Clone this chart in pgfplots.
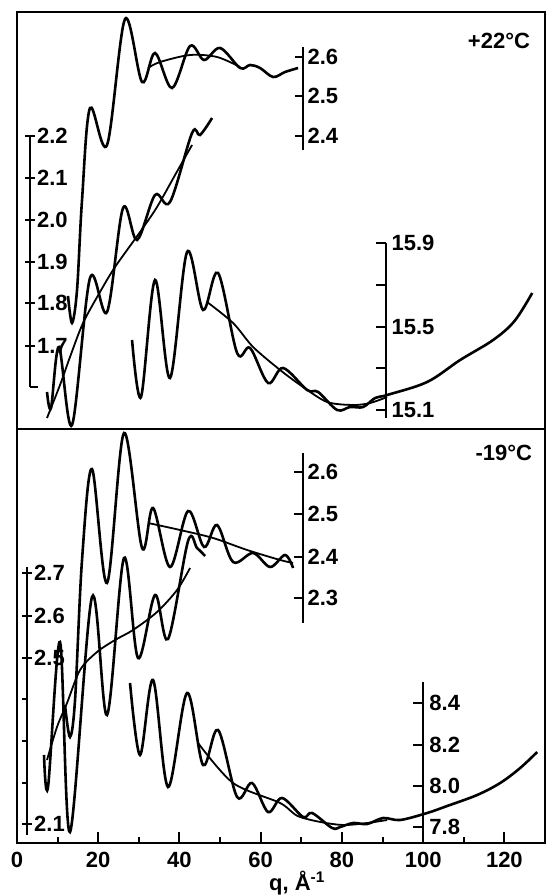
\documentclass[border=0pt]{standalone}
\usepackage{fontspec}
\setmainfont{Liberation Sans}
\usepackage{pgfplots}
\pgfplotsset{compat=1.18}

\newcommand\lbl{\fontsize{11}{13}\selectfont\bfseries}

\begin{document}
\begin{tikzpicture}[font=\lbl]
\useasboundingbox (0,0) rectangle (273.5pt,447.5pt);
\tikzset{scalebar/.style={black, line width=1.1pt}}
\pgfplotsset{
  panel/.style={scale only axis, width=264pt, xmin=0, xmax=130, ymin=0,
    clip=false, anchor=south west, ytick=\empty,
    axis line style={line width=1.4pt},
    tick label style={font=\lbl},
    /pgf/number format/assume math mode=true},
  curve/.style={black, line width=1.3pt, smooth, tension=0.55, mark=none},
  fit/.style={black, line width=0.9pt, smooth, mark=none},
}

% ---------------- upper panel, +22 C ----------------
\begin{axis}[panel, at={(8.5pt,233pt)}, height=208.5pt, ymax=417, xtick=\empty]
% top series (2.4 - 2.6 scale)
\addplot[curve] coordinates {
  (12.56,133) (13.55,106) (14.78,139) (16.01,229) (17.98,321) (22.17,284)
  (26.60,410) (30.79,347) (33.99,376) (38.18,341) (42.61,383) (46.06,369)
  (50.00,381) (54.93,361) (57.39,364) (59.85,361) (63.05,352) (66.01,357)
  (69.21,361)
};
\addplot[fit] coordinates {
  (32.27,361) (35.22,367) (42.61,374) (49.26,372) (54.93,362)
};
% middle series (1.6 - 2.2 scale)
\addplot[curve] coordinates {
  (7.39,37) (8.37,21) (10.34,82) (13.55,4) (17.98,151) (22.17,117)
  (26.11,221) (29.56,189) (33.99,234) (37.68,227) (43.10,296) (45.07,294)
  (48.03,311)
};
\addplot[fit] coordinates {
  (7.39,11) (10.59,44) (13.05,72) (16.26,106) (20.44,137) (24.14,162)
  (30.30,197) (34.48,222) (38.92,254) (43.10,284)
};
% lower series (15.1 - 15.9 scale)
\addplot[curve] coordinates {
  (28.33,89) (30.54,32) (33.99,149) (37.68,51) (41.87,177) (45.81,119)
  (49.51,156) (54.19,76) (57.39,81) (61.82,46) (65.52,61) (71.43,39)
  (74.14,37) (78.82,19) (82.02,22) (85.22,22) (88.18,31) (91.13,34)
  (100.99,47) (109.11,69) (117.24,89) (122.5,108) (126.85,136)
};
\addplot[fit] coordinates {
  (46.80,127) (53.20,106) (58.13,82) (64.78,59) (70.44,42) (76.35,27)
  (82.76,24) (86.95,26) (91.13,32)
};
% scale 1.6 - 2.2
\draw[scalebar] (axis cs:3.20,42) -- (axis cs:3.20,293);
\draw[scalebar] (axis cs:1.97,293) -- (axis cs:4.43,293);
\draw[scalebar] (axis cs:1.97,251) -- (axis cs:4.43,251);
\draw[scalebar] (axis cs:1.97,209) -- (axis cs:4.43,209);
\draw[scalebar] (axis cs:1.97,167) -- (axis cs:4.43,167);
\draw[scalebar] (axis cs:1.97,126) -- (axis cs:4.43,126);
\draw[scalebar] (axis cs:1.97,83) -- (axis cs:4.43,83);
\draw[scalebar] (axis cs:3.20,42) -- (axis cs:5.20,42);
\node[anchor=west, inner sep=0.5pt] at (axis cs:4.6,293) {2.2};
\node[anchor=west, inner sep=0.5pt] at (axis cs:4.6,251) {2.1};
\node[anchor=west, inner sep=0.5pt] at (axis cs:4.6,209) {2.0};
\node[anchor=west, inner sep=0.5pt] at (axis cs:4.6,167) {1.9};
\node[anchor=west, inner sep=0.5pt] at (axis cs:4.6,126) {1.8};
\node[anchor=west, inner sep=0.5pt] at (axis cs:4.6,83) {1.7};
% scale 2.4 - 2.6
\draw[scalebar] (axis cs:70.44,279) -- (axis cs:70.44,382);
\draw[scalebar] (axis cs:68.47,372) -- (axis cs:70.44,372);
\draw[scalebar] (axis cs:68.47,333) -- (axis cs:70.44,333);
\draw[scalebar] (axis cs:68.47,293) -- (axis cs:70.44,293);
\node[anchor=west, inner sep=0.5pt] at (axis cs:71.2,372) {2.6};
\node[anchor=west, inner sep=0.5pt] at (axis cs:71.2,333) {2.5};
\node[anchor=west, inner sep=0.5pt] at (axis cs:71.2,293) {2.4};
% scale 15.1 - 15.9
\draw[scalebar] (axis cs:90.89,11) -- (axis cs:90.89,186);
\draw[scalebar] (axis cs:88.42,186) -- (axis cs:90.89,186);
\draw[scalebar] (axis cs:88.42,144) -- (axis cs:90.89,144);
\draw[scalebar] (axis cs:88.42,102) -- (axis cs:90.89,102);
\draw[scalebar] (axis cs:88.42,61) -- (axis cs:90.89,61);
\draw[scalebar] (axis cs:88.42,19) -- (axis cs:90.89,19);
\node[anchor=west, inner sep=0.5pt] at (axis cs:91.9,186) {15.9};
\node[anchor=west, inner sep=0.5pt] at (axis cs:91.9,102) {15.5};
\node[anchor=west, inner sep=0.5pt] at (axis cs:91.9,19) {15.1};
\node[anchor=east, inner sep=0pt] at (axis cs:126.4,388) {+22°C};
\end{axis}

% ---------------- lower panel, -19 C ----------------
\begin{axis}[panel, at={(8.5pt,26pt)}, height=207pt, ymax=414,
  xtick={0,20,...,120}, minor xtick={10,30,...,130},
  xtick pos=bottom, tick align=inside,
  major tick length=5.5pt, minor tick length=3pt,
  every tick/.style={black, line width=1pt},
  xticklabel style={yshift=-1pt}]
% top series (2.3 - 2.6 scale)
\addplot[curve] coordinates {
  (11.82,138) (13.05,106) (14.29,143) (16.01,283) (18.47,374) (22.17,260)
  (26.35,410) (30.79,295) (33.50,335) (37.68,276) (42.12,332) (46.06,296)
  (49.26,318) (53.20,281) (58.13,290) (62.32,276) (66.01,288) (67.98,275)
};
\addplot[fit] coordinates {
  (32.27,320) (40.15,313) (48.28,305) (56.65,293) (64.78,283) (67.98,280)
};
% middle series (2.1 - 2.7 scale)
\addplot[curve] coordinates {
  (6.65,88) (7.64,56) (10.59,201) (13.05,11) (18.47,246) (22.17,128)
  (26.35,285) (29.80,185) (33.99,248) (37.19,204) (42.12,302) (44.33,295)
  (46.31,287)
};
\addplot[fit] coordinates {
  (7.39,83) (9.85,116) (12.32,140) (15.52,173) (19.70,191) (24.14,203)
  (28.57,213) (34.48,231) (39.41,253) (42.61,275)
};
% lower series (7.8 - 8.4 scale)
\addplot[curve] coordinates {
  (27.83,160) (30.30,88) (33.50,163) (37.19,56) (41.87,150) (45.81,78)
  (49.51,113) (54.19,46) (57.88,60) (61.82,31) (65.27,45) (70.44,26)
  (72.66,30) (77.59,15) (79.56,16) (82.76,20) (86.21,19) (90.15,25)
  (94.33,23) (100.99,30) (105.91,37) (113.30,48) (118.97,60) (123.89,75)
  (128.08,91)
};
\addplot[fit] coordinates {
  (44.58,100) (53.20,60) (64.78,40) (69.70,26) (80.30,18) (91.13,23)
};
% scale 2.1 - 2.7
\draw[scalebar] (axis cs:2.46,8) -- (axis cs:2.46,276);
\draw[scalebar] (axis cs:1.23,270) -- (axis cs:3.69,270);
\draw[scalebar] (axis cs:1.23,227) -- (axis cs:3.69,227);
\draw[scalebar] (axis cs:1.23,185) -- (axis cs:3.69,185);
\draw[scalebar] (axis cs:1.23,144) -- (axis cs:2.46,144);
\draw[scalebar] (axis cs:1.23,102) -- (axis cs:2.46,102);
\draw[scalebar] (axis cs:1.23,60) -- (axis cs:2.46,60);
\draw[scalebar] (axis cs:1.23,19) -- (axis cs:3.69,19);
\node[anchor=west, inner sep=0.5pt] at (axis cs:3.9,270) {2.7};
\node[anchor=west, inner sep=0.5pt] at (axis cs:3.9,227) {2.6};
\node[anchor=west, inner sep=0.5pt] at (axis cs:3.9,185) {2.5};
\node[anchor=west, inner sep=0.5pt] at (axis cs:3.9,19) {2.1};
% scale 2.3 - 2.6
\draw[scalebar] (axis cs:70.44,220) -- (axis cs:70.44,390);
\draw[scalebar] (axis cs:68.23,371) -- (axis cs:70.44,371);
\draw[scalebar] (axis cs:68.23,329) -- (axis cs:70.44,329);
\draw[scalebar] (axis cs:68.23,286) -- (axis cs:70.44,286);
\draw[scalebar] (axis cs:68.23,245) -- (axis cs:70.44,245);
\node[anchor=west, inner sep=0.5pt] at (axis cs:71.2,371) {2.6};
\node[anchor=west, inner sep=0.5pt] at (axis cs:71.2,329) {2.5};
\node[anchor=west, inner sep=0.5pt] at (axis cs:71.2,286) {2.4};
\node[anchor=west, inner sep=0.5pt] at (axis cs:71.2,245) {2.3};
% scale 7.8 - 8.4
\draw[scalebar] (axis cs:100.0,1) -- (axis cs:100.0,161);
\draw[scalebar] (axis cs:97.54,140) -- (axis cs:100.0,140);
\draw[scalebar] (axis cs:97.54,98) -- (axis cs:100.0,98);
\draw[scalebar] (axis cs:97.54,57) -- (axis cs:100.0,57);
\draw[scalebar] (axis cs:97.54,16) -- (axis cs:100.0,16);
\node[anchor=west, inner sep=0.5pt] at (axis cs:101.2,140) {8.4};
\node[anchor=west, inner sep=0.5pt] at (axis cs:101.2,98) {8.2};
\node[anchor=west, inner sep=0.5pt] at (axis cs:101.2,57) {8.0};
\node[anchor=west, inner sep=0.5pt] at (axis cs:101.2,16) {7.8};
\node[anchor=east, inner sep=0pt] at (axis cs:126.9,390) {-19°C};
\node at (axis cs:69,-40) {q, Å\textsuperscript{-1}};
\end{axis}
\end{tikzpicture}
\end{document}
